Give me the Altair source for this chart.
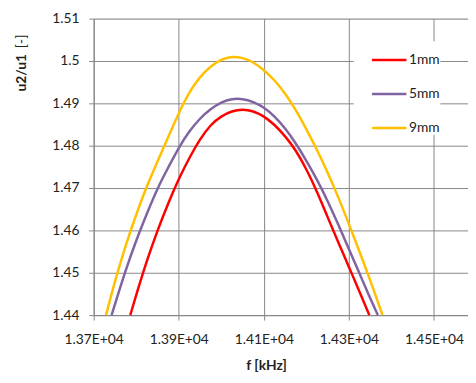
import altair as alt
import pandas as pd

series = ["1mm", "5mm", "9mm"]
colors = ["#FF0000", "#8064A2", "#FFC000"]

f_1mm = [13786, 13800, 13825, 13850, 13875, 13900, 13925, 13950, 13975, 14000, 14025, 14050,
         14075, 14100, 14125, 14150, 14175, 14200, 14225, 14250, 14275, 14300, 14325, 14348]
u_1mm = [1.4400, 1.4448, 1.4529, 1.4600, 1.4664, 1.4722, 1.4772, 1.4816, 1.4850, 1.4870, 1.4882, 1.4886,
         1.4882, 1.4870, 1.4850, 1.4823, 1.4790, 1.4745, 1.4692, 1.4631, 1.4572, 1.4514, 1.4455, 1.4400]

f_5mm = [13742, 13750, 13775, 13800, 13825, 13850, 13875, 13900, 13925, 13950, 13975, 14000, 14025, 14050,
         14075, 14100, 14125, 14150, 14175, 14200, 14225, 14250, 14275, 14300, 14325, 14350, 14368]
u_5mm = [1.4400, 1.4426, 1.4506, 1.4577, 1.4640, 1.4700, 1.4748, 1.4796, 1.4835, 1.4865, 1.4887, 1.4903, 1.4911, 1.4911,
         1.4904, 1.4891, 1.4870, 1.4842, 1.4806, 1.4765, 1.4720, 1.4670, 1.4614, 1.4556, 1.4498, 1.4440, 1.4400]

f_9mm = [13729, 13750, 13775, 13800, 13825, 13850, 13875, 13900, 13925, 13950, 13975, 14000, 14025, 14050,
         14075, 14100, 14125, 14150, 14175, 14200, 14225, 14250, 14275, 14300, 14325, 14350, 14379]
u_9mm = [1.4400, 1.4481, 1.4565, 1.4638, 1.4705, 1.4763, 1.4820, 1.4877, 1.4928, 1.4963, 1.4988, 1.5004, 1.5011, 1.5008,
         1.4998, 1.4979, 1.4955, 1.4924, 1.4885, 1.4839, 1.4791, 1.4737, 1.4679, 1.4615, 1.4550, 1.4483, 1.4400]

x_ticks = [13700, 13900, 14100, 14300, 14500]
y_ticks = [1.44, 1.45, 1.46, 1.47, 1.48, 1.49, 1.50, 1.51]

rows = []
for name, fs, us in [("1mm", f_1mm, u_1mm), ("5mm", f_5mm, u_5mm), ("9mm", f_9mm, u_9mm)]:
    for i, (fv, uv) in enumerate(zip(fs, us)):
        rows.append({"s": name, "f": fv, "u": uv, "o": i})
df = pd.DataFrame(rows)

FONT = "Lato"
GRID = "#868686"

lines = alt.Chart(df).mark_line(strokeWidth=2.5, interpolate="basis").encode(
    x=alt.X("f:Q",
            scale=alt.Scale(domain=[13700, 14580], nice=False, zero=False),
            axis=alt.Axis(values=x_ticks,
                          labelExpr="format(datum.value/10000, '.2f') + 'E+04'",
                          labelOverlap=False, labelFlush=False,
                          grid=True, gridColor=GRID, gridWidth=1,
                          domainColor=GRID, tickColor=GRID, tickSize=5,
                          labelFont=FONT, labelFontSize=14, labelColor="#222",
                          labelPadding=13,
                          title="f [kHz]", titleFont=FONT, titleFontSize=14,
                          titleFontWeight="bold", titleColor="#222",
                          titleX=175, titleY=51, titleBaseline="middle")),
    y=alt.Y("u:Q",
            scale=alt.Scale(domain=[1.44, 1.51], nice=False, zero=False),
            axis=alt.Axis(values=y_ticks,
                          labelExpr="format(datum.value, '.2~f')",
                          labelOverlap=False, labelFlush=False,
                          grid=True, gridColor=GRID, gridWidth=1,
                          domainColor=GRID, tickColor=GRID, tickSize=5,
                          labelFont=FONT, labelFontSize=14, labelColor="#222",
                          labelPadding=10),
            title=None),
    color=alt.Color("s:N",
                    scale=alt.Scale(domain=series, range=colors),
                    legend=alt.Legend(title=None, orient="none",
                                      legendX=264, legendY=23,
                                      fillColor="white", padding=0,
                                      symbolType="stroke", symbolSize=1225,
                                      symbolStrokeWidth=2.5, symbolOffset=17,
                                      rowPadding=8.5, labelOffset=1,
                                      labelFont=FONT, labelFontSize=14,
                                      labelColor="#222")),
    order="o:Q",
)

t1 = alt.Chart(pd.DataFrame({"t": ["u2/u1"]})).mark_text(
    angle=270, align="left", baseline="middle", font=FONT, fontSize=14,
    fontWeight="bold", color="#222"
).encode(x=alt.value(-73), y=alt.value(74), text="t:N")

t2 = alt.Chart(pd.DataFrame({"t": ["[-]"]})).mark_text(
    angle=270, align="left", baseline="middle", font=FONT, fontSize=14,
    color="#222"
).encode(x=alt.value(-73), y=alt.value(30), text="t:N")

chart = alt.layer(lines, t1, t2).properties(
    width=380, height=301,
    autosize=alt.AutoSizeParams(type="none"),
    padding={"left": 87, "top": 8, "right": 0, "bottom": 58},
).configure_view(stroke=None).configure(background="white")

chart.save("out.html", embed_options={"renderer": "svg", "actions": False})
